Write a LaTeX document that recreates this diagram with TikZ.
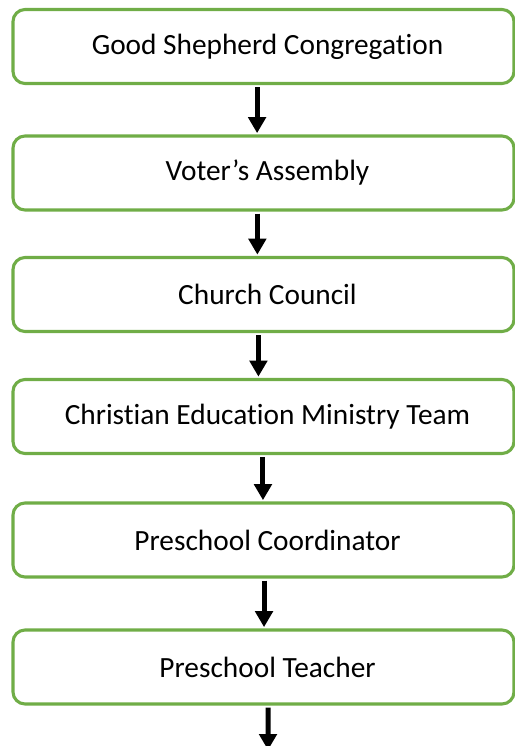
\documentclass[tikz,border=0pt]{standalone}
\usepackage{fontspec}
\setmainfont{Carlito}[Ligatures={NoCommon}]
\usetikzlibrary{arrows.meta}
\definecolor{boxgreen}{HTML}{70AD47}
\begin{document}
\begin{tikzpicture}[x=0.75pt,y=-0.75pt,
  orgbox/.style={draw=boxgreen, line width=2.3pt, rounded corners=9pt,
    minimum width=375.75pt, minimum height=55.5pt, inner sep=0pt,
    font=\fontsize{22}{26}\selectfont, text=black,
    execute at begin node={\hspace*{6pt}}},
  arr/.style={draw=black, line width=3.75pt,
    -{Triangle[width=13pt,length=12pt]}, shorten <=1.5pt, shorten >=1pt}]
\useasboundingbox (0,0) rectangle (514,746);
\node[orgbox] (b1) at (263.5,46.5) {Good Shepherd Congregation};
\node[orgbox] (b2) at (263.5,173) {Voter’s Assembly};
\node[orgbox] (b3) at (263.5,294.5) {Church Council};
\node[orgbox] (b4) at (263.5,416.5) {Christian Education Ministry Team};
\node[orgbox] (b5) at (263.5,540) {Preschool Coordinator};
\node[orgbox] (b6) at (263.5,667) {Preschool Teacher};
\coordinate (end) at (268,750);
\draw[arr] ([xshift=-4.8pt]b1.south) -- ([xshift=-4.8pt]b2.north);
\draw[arr] ([xshift=-4.6pt]b2.south) -- ([xshift=-4.6pt]b3.north);
\draw[arr] ([xshift=-3.8pt]b3.south) -- ([xshift=-3.8pt]b4.north);
\draw[arr] ([xshift=-0.4pt]b4.south) -- ([xshift=-0.4pt]b5.north);
\draw[arr] ([xshift=0.4pt]b5.south) -- ([xshift=0.4pt]b6.north);
\draw[arr, shorten >=0pt] ([xshift=3.4pt]b6.south) -- (end);
\end{tikzpicture}
\end{document}
